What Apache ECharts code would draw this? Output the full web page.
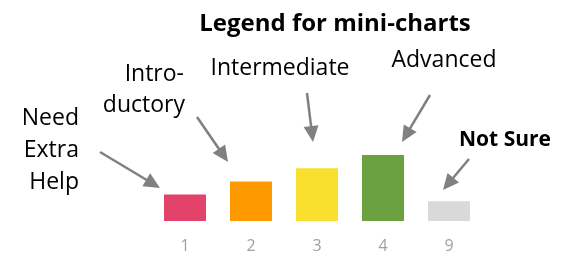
<!DOCTYPE html>
<html>
<head>
<meta charset="utf-8">
<script src="https://cdn.jsdelivr.net/npm/echarts@6/dist/echarts.min.js"></script>
<style>html,body{margin:0;padding:0;background:#fff;}#c{width:569px;height:254px;}</style>
</head>
<body>
<div id="c"></div>
<script>
const categories = ['1', '2', '3', '4', '9'];
const values = [2, 3, 4, 5, 1.5];
const barColors = ['#E3426A', '#FF9900', '#F9DF2E', '#6BA140', '#D9D9D9'];
const titleText = 'Legend for mini-charts';

const chart = echarts.init(document.getElementById('c'));
const FONT = '"Open Sans", "DejaVu Sans", sans-serif';
const ARROW = '#808080';

function arrow(sx, sy, tx, ty) {
  const dx = tx - sx, dy = ty - sy;
  const len = Math.sqrt(dx * dx + dy * dy);
  const ux = dx / len, uy = dy / len;
  const L = 16, W = 7.5;
  const bx = tx - ux * L, by = ty - uy * L;
  const nx = -uy, ny = ux;
  return [
    { type: 'line', shape: { x1: sx, y1: sy, x2: bx + ux * 2, y2: by + uy * 2 },
      style: { stroke: ARROW, lineWidth: 2.5 }, silent: true },
    { type: 'polygon', shape: { points: [[tx, ty], [bx + nx * W, by + ny * W], [bx - nx * W, by - ny * W]] },
      style: { fill: ARROW }, silent: true }
  ];
}

function label(text, x, y, align, bold, size) {
  return { type: 'text', silent: true,
    style: { text: text, x: x, y: y, align: align, verticalAlign: 'middle',
      fontFamily: FONT, fontSize: size || 23, fontWeight: bold ? 'bold' : 'normal', fill: '#000' } };
}

const graphics = [].concat(
  label('Need', 79, 118, 'right'),
  label('Extra', 79, 150, 'right'),
  label('Help', 79, 182, 'right'),
  label('Intro-', 184, 74, 'right'),
  label('ductory', 185, 105, 'right'),
  label('Intermediate', 280, 68, 'center'),
  label('Advanced', 444, 60, 'center'),
  label('Not Sure', 505, 140, 'center', true, 21),
  arrow(100, 152, 160, 188),
  arrow(197, 117, 228, 162),
  arrow(307, 93, 313, 142),
  arrow(430, 95, 402, 142),
  arrow(469, 159, 443, 190)
);

chart.setOption({
  animation: false,
  title: {
    text: titleText, left: 330, top: 19, textAlign: 'center', textVerticalAlign: 'middle',
    textStyle: { fontFamily: FONT, fontSize: 24, fontWeight: 'bold', color: '#000' }
  },
  grid: { left: 152, right: 87, top: 155, bottom: 33 },
  xAxis: {
    type: 'category', data: categories,
    axisLine: { show: false }, axisTick: { show: false }, splitLine: { show: false },
    axisLabel: { color: '#A0A0A0', fontFamily: FONT, fontSize: 16, margin: 17 }
  },
  yAxis: { type: 'value', min: 0, max: 5, show: false },
  series: [{
    type: 'bar', barWidth: 42,
    data: values.map((v, i) => ({ value: v, itemStyle: { color: barColors[i] } }))
  }],
  graphic: graphics
});
</script>
</body>
</html>
